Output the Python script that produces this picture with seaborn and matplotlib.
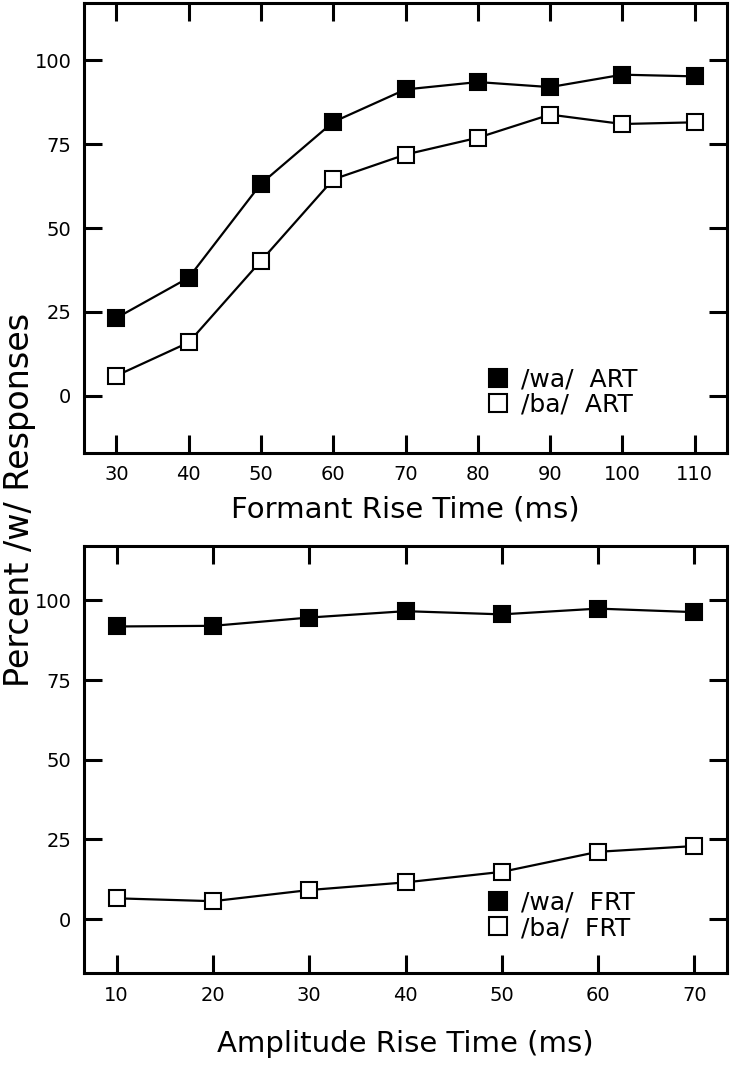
import pandas as pd
import numpy as np
import seaborn as sns
import matplotlib
matplotlib.use('Agg')
import matplotlib.pyplot as plt

sns.set_style('ticks')
plt.rcParams['font.family'] = ['DejaVu Sans']
plt.rcParams['text.color'] = 'black'
plt.rcParams['axes.labelcolor'] = 'black'
plt.rcParams['xtick.color'] = 'black'
plt.rcParams['ytick.color'] = 'black'
plt.rcParams['axes.edgecolor'] = 'black'

# formant rise time panel (ART)
frt_x = [30, 40, 50, 60, 70, 80, 90, 100, 110]
wa_art = [23.2, 35.2, 63.2, 81.6, 91.3, 93.5, 92.0, 95.7, 95.2]
ba_art = [6.0, 15.9, 40.2, 64.5, 71.9, 76.9, 83.8, 81.0, 81.5]

# amplitude rise time panel (FRT)
art_x = [10, 20, 30, 40, 50, 60, 70]
wa_frt = [91.8, 92.0, 94.6, 96.6, 95.6, 97.4, 96.3]
ba_frt = [6.5, 5.6, 9.1, 11.5, 14.8, 21.1, 22.9]

y_ticks = [0, 25, 50, 75, 100]

fig = plt.figure(figsize=(7.3, 10.73), dpi=100)
ax1 = fig.add_axes([0.115, 0.578, 0.881, 0.419])
ax2 = fig.add_axes([0.115, 0.093, 0.881, 0.398])

def panel(ax, x, wa, ba, wa_lab, ba_lab, xlab, xlim, lpad):
    df = pd.DataFrame({'x': x, 'wa': wa, 'ba': ba})
    sns.lineplot(data=df, x='x', y='wa', ax=ax, color='black', lw=1.6,
                 marker='s', markersize=11.5, markerfacecolor='black',
                 markeredgecolor='black', markeredgewidth=1.5, label=wa_lab)
    sns.lineplot(data=df, x='x', y='ba', ax=ax, color='black', lw=1.6,
                 marker='s', markersize=11.5, markerfacecolor='white',
                 markeredgecolor='black', markeredgewidth=1.5, label=ba_lab)
    ax.set_xlim(*xlim)
    ax.set_ylim(-17, 117)
    ax.set_xticks(x)
    ax.set_yticks(y_ticks)
    ax.tick_params(direction='in', length=13, width=2.2, top=True, right=True,
                   labelsize=14, pad=9)
    for s in ax.spines.values():
        s.set_linewidth(2.2)
    ax.set_xlabel(xlab, fontsize=21, labelpad=lpad)
    ax.set_ylabel('')
    leg = ax.legend(loc='center left', frameon=False, fontsize=18,
                    markerscale=1.15, handlelength=0.9, handletextpad=0.5,
                    labelspacing=0.05, bbox_to_anchor=(0.61, 0.135),
                    borderaxespad=0)
    for h in leg.get_lines():
        h.set_linestyle('none')

panel(ax1, frt_x, wa_art, ba_art, '/wa/  ART', '/ba/  ART',
      'Formant Rise Time (ms)', (25.5, 114.5), 8)
panel(ax2, art_x, wa_frt, ba_frt, '/wa/  FRT', '/ba/  FRT',
      'Amplitude Rise Time (ms)', (6.6, 73.4), 18)

fig.text(0.027, 0.534, 'Percent /w/ Responses', rotation=90, fontsize=24,
         ha='center', va='center')

fig.savefig('out.png', dpi=100)
